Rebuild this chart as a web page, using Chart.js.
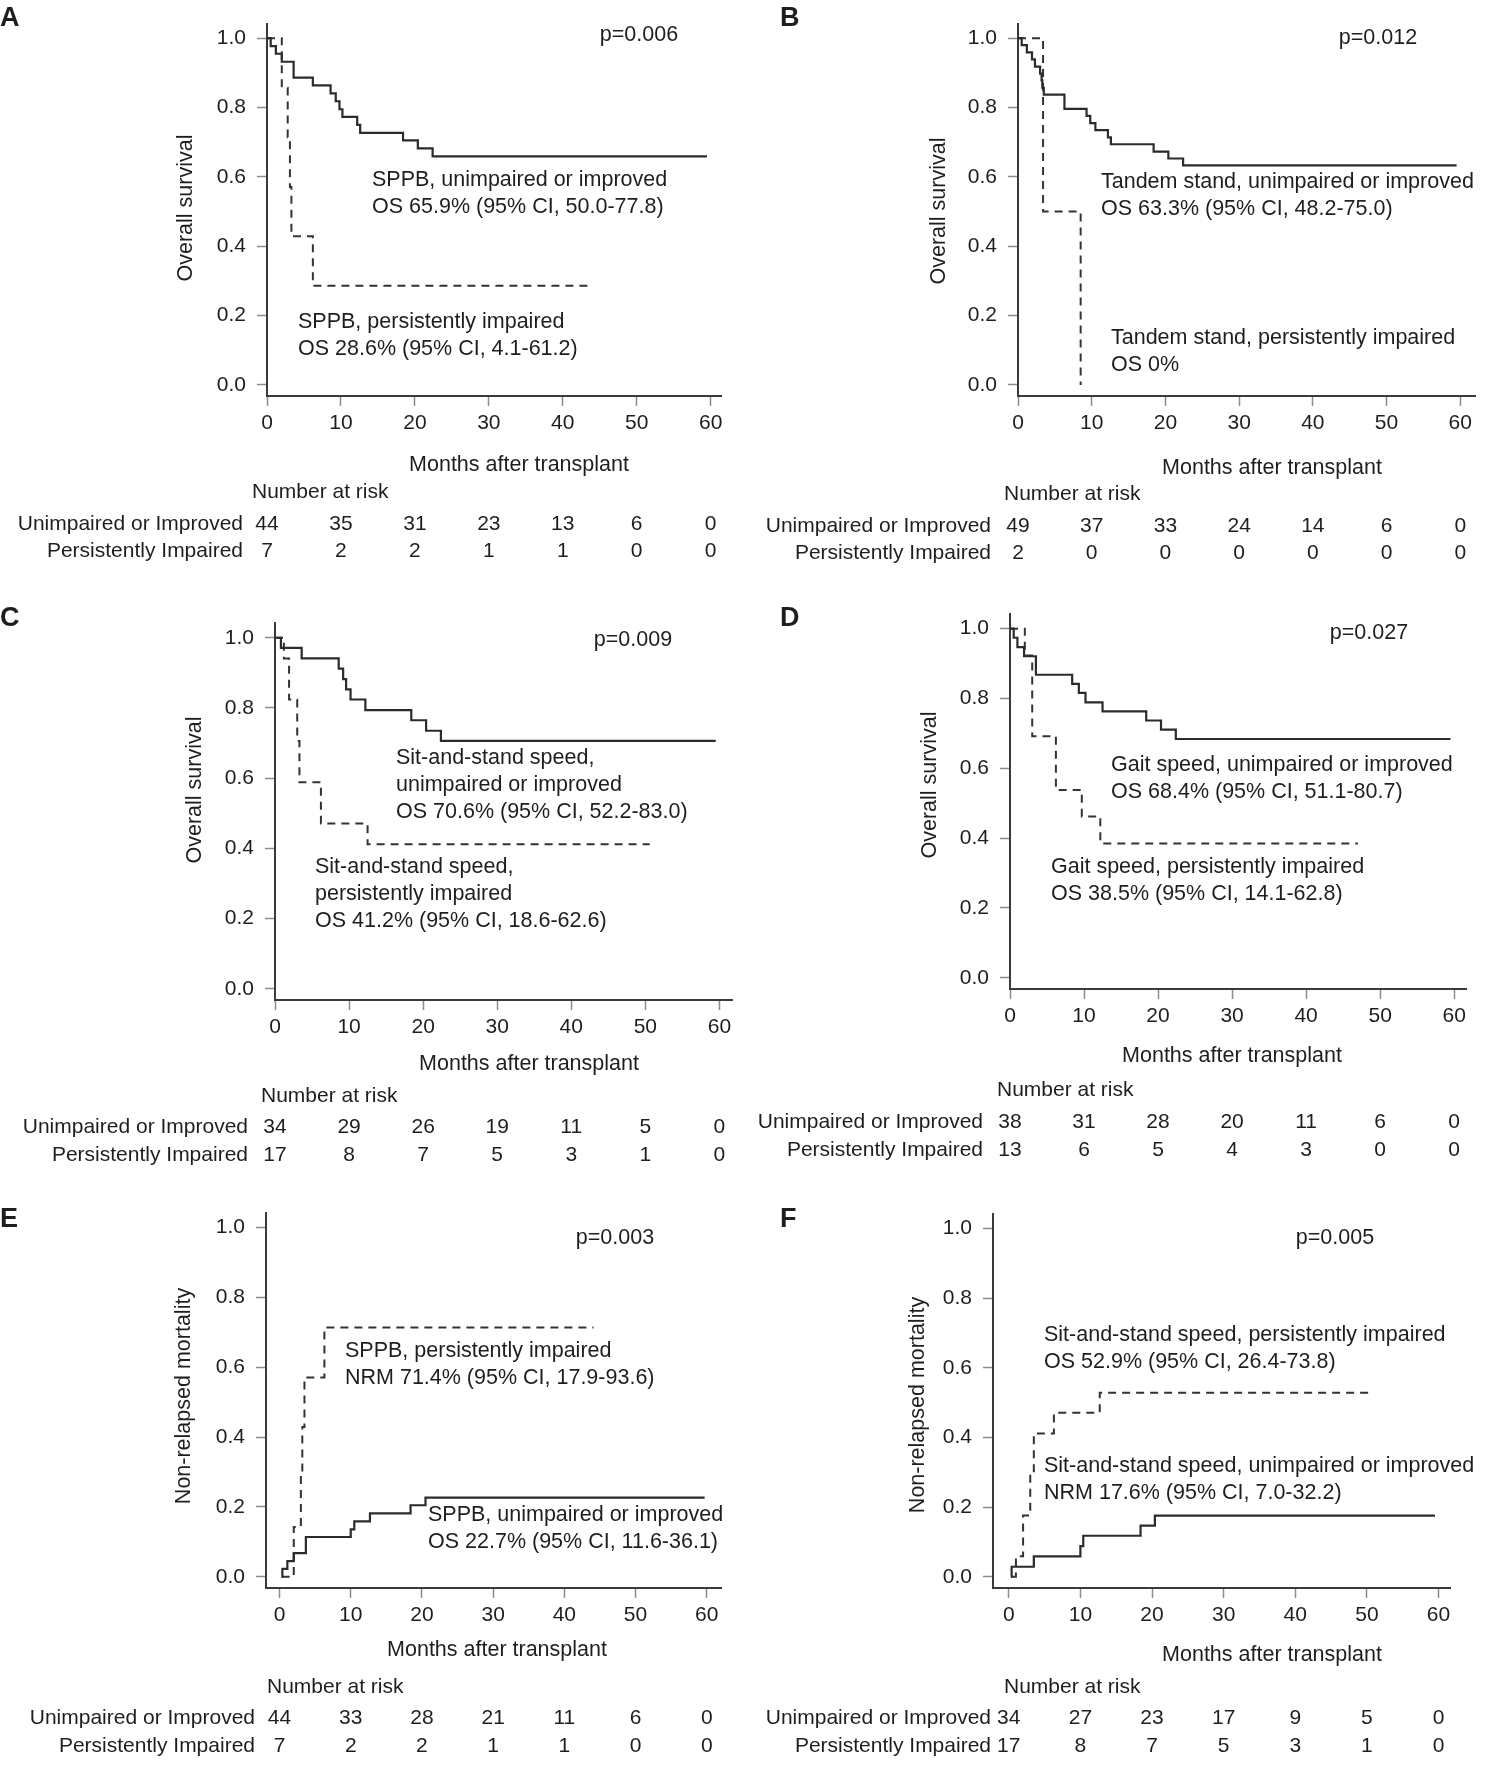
<!DOCTYPE html>
<html>
<head>
<meta charset="utf-8">
<script src="https://cdn.jsdelivr.net/npm/chart.js@4.4.1/dist/chart.umd.min.js"></script>
<style>
  body { margin: 0; background: #fff; }
  #page { position: relative; width: 1486px; height: 1767px; overflow: hidden; }
  canvas { position: absolute; }
</style>
</head>
<body>
<div id="page">
  <canvas id="chartA"></canvas>
  <canvas id="chartB"></canvas>
  <canvas id="chartC"></canvas>
  <canvas id="chartD"></canvas>
  <canvas id="chartE"></canvas>
  <canvas id="chartF"></canvas>
</div>
<script>
// axis ticks shared by all panels
const xTicks = [0, 10, 20, 30, 40, 50, 60];
const xTickLabels = ['0', '10', '20', '30', '40', '50', '60'];
const yTicks = [0, 0.2, 0.4, 0.6, 0.8, 1.0];
const yTickLabels = ['0.0', '0.2', '0.4', '0.6', '0.8', '1.0'];
const rowLabels = ['Unimpaired or Improved', 'Persistently Impaired'];

// Panel A - SPPB, overall survival
const aUnimpT = [0, 0.5, 1.2, 2.0, 3.6, 6.2, 8.6, 9.3, 9.8, 10.2, 12.2, 12.6, 18.4, 20.4, 22.4, 59.5];
const aUnimpS = [1, 0.977, 0.955, 0.932, 0.886, 0.864, 0.841, 0.818, 0.795, 0.773, 0.750, 0.727, 0.705, 0.682, 0.659, 0.659];
const aImpT = [0, 2.0, 2.8, 3.1, 3.3, 6.2, 44.1];
const aImpS = [1, 0.857, 0.714, 0.571, 0.429, 0.286, 0.286];
const aRiskUnimp = [44, 35, 31, 23, 13, 6, 0];
const aRiskImp = [7, 2, 2, 1, 1, 0, 0];

// Panel B - Tandem stand, overall survival
const bUnimpT = [0, 0.5, 1.2, 1.9, 2.3, 3.0, 3.2, 3.3, 3.5, 6.3, 9.3, 9.8, 10.5, 12.2, 12.6, 18.4, 20.4, 22.4, 59.5];
const bUnimpS = [1, 0.980, 0.959, 0.939, 0.918, 0.898, 0.878, 0.857, 0.837, 0.796, 0.776, 0.755, 0.735, 0.714, 0.694, 0.673, 0.653, 0.633, 0.633];
const bImpT = [0, 3.4, 8.5];
const bImpS = [1, 0.5, 0];
const bRiskUnimp = [49, 37, 33, 24, 14, 6, 0];
const bRiskImp = [2, 0, 0, 0, 0, 0, 0];

// Panel C - Sit-and-stand speed, overall survival
const cUnimpT = [0, 0.8, 3.6, 8.6, 9.2, 9.6, 10.2, 12.2, 18.4, 20.4, 22.4, 59.5];
const cUnimpS = [1, 0.971, 0.941, 0.912, 0.882, 0.853, 0.824, 0.794, 0.765, 0.735, 0.706, 0.706];
const cImpT = [0, 1.2, 1.9, 3.0, 3.3, 6.2, 12.5, 50.6];
const cImpS = [1, 0.941, 0.824, 0.706, 0.588, 0.471, 0.412, 0.412];
const cRiskUnimp = [34, 29, 26, 19, 11, 5, 0];
const cRiskImp = [17, 8, 7, 5, 3, 1, 0];

// Panel D - Gait speed, overall survival
const dUnimpT = [0, 0.5, 1.0, 1.9, 3.5, 8.4, 9.3, 10.2, 12.5, 18.4, 20.4, 22.4, 59.5];
const dUnimpS = [1, 0.974, 0.947, 0.921, 0.868, 0.842, 0.816, 0.789, 0.763, 0.737, 0.711, 0.684, 0.684];
const dImpT = [0, 2.0, 3.0, 6.2, 9.7, 12.2, 47.0];
const dImpS = [1, 0.923, 0.692, 0.538, 0.462, 0.385, 0.385];
const dRiskUnimp = [38, 31, 28, 20, 11, 6, 0];
const dRiskImp = [13, 6, 5, 4, 3, 0, 0];

// Panel E - SPPB, non-relapsed mortality
const eUnimpT = [0.3, 0.4, 1.1, 2.0, 3.7, 10.0, 10.5, 12.7, 18.4, 20.5, 59.7];
const eUnimpS = [0, 0.023, 0.045, 0.068, 0.114, 0.136, 0.159, 0.182, 0.205, 0.227, 0.227];
const eImpT = [0.3, 2.0, 3.0, 3.2, 3.5, 6.3, 44.1];
const eImpS = [0, 0.143, 0.286, 0.429, 0.571, 0.714, 0.714];
const eRiskUnimp = [44, 33, 28, 21, 11, 6, 0];
const eRiskImp = [7, 2, 2, 1, 1, 0, 0];

// Panel F - Sit-and-stand speed, non-relapsed mortality
const fUnimpT = [0.3, 0.4, 3.5, 10.0, 10.4, 18.4, 20.4, 59.5];
const fUnimpS = [0, 0.029, 0.059, 0.088, 0.118, 0.147, 0.176, 0.176];
const fImpT = [0.5, 1.0, 2.0, 3.0, 3.5, 6.3, 12.7, 50.6];
const fImpS = [0, 0.059, 0.176, 0.294, 0.412, 0.471, 0.529, 0.529];
const fRiskUnimp = [34, 27, 23, 17, 9, 5, 0];
const fRiskImp = [17, 8, 7, 5, 3, 1, 0];

const FONT = '"Liberation Sans", Arial, sans-serif';
const INK = '#1e1e1e';

function pts(t, s) {
  return t.map((v, i) => ({ x: v, y: s[i] }));
}

// draws letters, labels, axis titles and the number-at-risk table
const panelText = {
  id: 'panelText',
  afterDraw(chart, args, o) {
    const ctx = chart.ctx;
    const ox = o.cell.x, oy = o.cell.y;
    const xs = chart.scales.x;
    ctx.save();
    ctx.fillStyle = INK;
    ctx.textBaseline = 'middle';

    ctx.font = 'bold 27px ' + FONT;
    ctx.textAlign = 'left';
    ctx.fillText(o.letter, o.letterPos[0] - ox, o.letterPos[1] - oy);

    ctx.font = '21.5px ' + FONT;
    ctx.textAlign = 'center';
    ctx.fillText(o.pText, o.pPos[0] - ox, o.pPos[1] - oy);

    ctx.textAlign = 'left';
    o.notes.forEach(n => {
      n.lines.forEach((line, i) => {
        ctx.fillText(line, n.x - ox, n.y - oy + i * 27);
      });
    });

    // x title
    ctx.textAlign = 'center';
    ctx.fillText('Months after transplant', o.xTitle[0] - ox, o.xTitle[1] - oy);

    // y title
    ctx.save();
    ctx.translate(o.yTitle[0] - ox, o.yTitle[1] - oy);
    ctx.rotate(-Math.PI / 2);
    ctx.fillText(o.yText, 0, 0);
    ctx.restore();

    // number at risk
    ctx.font = '21px ' + FONT;
    ctx.textAlign = 'left';
    ctx.fillText('Number at risk', o.nar[0] - ox, o.nar[1] - oy);
    ctx.textAlign = 'right';
    ctx.fillText(rowLabels[0], o.rowRight - ox, o.rows[0] - oy);
    ctx.fillText(rowLabels[1], o.rowRight - ox, o.rows[1] - oy);
    ctx.textAlign = 'center';
    xTicks.forEach((t, i) => {
      const px = xs.getPixelForValue(t);
      ctx.fillText(String(o.risk[0][i]), px, o.rows[0] - oy);
      ctx.fillText(String(o.risk[1][i]), px, o.rows[1] - oy);
    });
    ctx.restore();
  }
};

function makeChart(id, cell, axis, solid, dashed, text) {
  const canvas = document.getElementById(id);
  canvas.width = cell.w;
  canvas.height = cell.h;
  canvas.style.left = cell.x + 'px';
  canvas.style.top = cell.y + 'px';
  const yW = 90, xH = 50;
  text.cell = cell;

  return new Chart(canvas, {
    type: 'line',
    data: {
      datasets: [
        {
          data: solid,
          borderColor: '#2b2b2b',
          borderWidth: 2.2,
          stepped: 'before',
          pointRadius: 0,
          fill: false,
        },
        {
          data: dashed,
          borderColor: '#333',
          borderWidth: 2,
          borderDash: [8, 6],
          stepped: 'before',
          pointRadius: 0,
          fill: false,
        },
      ],
    },
    options: {
      responsive: false,
      animation: false,
      events: [],
      layout: {
        padding: {
          left: axis.left - cell.x - yW,
          top: axis.top - cell.y,
          right: cell.x + cell.w - axis.right,
          bottom: cell.y + cell.h - axis.bottom - xH,
        },
      },
      plugins: {
        legend: { display: false },
        tooltip: { enabled: false },
        panelText: text,
      },
      scales: {
        x: {
          type: 'linear',
          min: axis.xmin,
          max: axis.xmax,
          afterFit: s => { s.height = xH; },
          afterBuildTicks: s => { s.ticks = xTicks.map(v => ({ value: v })); },
          ticks: {
            autoSkip: false,
            maxRotation: 0,
            padding: 5,
            color: INK,
            font: { family: FONT, size: 21 },
            callback: (v, i) => xTickLabels[i],
          },
          grid: { drawOnChartArea: false, drawTicks: true, tickLength: 10, tickColor: '#8c8c8c', tickWidth: 1.5 },
          border: { display: true, color: '#3a3a3a', width: 2 },
        },
        y: {
          type: 'linear',
          min: -0.032,
          max: 1.042,
          afterFit: s => { s.width = yW; },
          afterBuildTicks: s => { s.ticks = yTicks.map(v => ({ value: v })); },
          ticks: {
            autoSkip: false,
            padding: 11,
            color: INK,
            font: { family: FONT, size: 21 },
            callback: (v, i) => yTickLabels[i],
          },
          grid: { drawOnChartArea: false, drawTicks: true, tickLength: 10, tickColor: '#8c8c8c', tickWidth: 1.5 },
          border: { display: true, color: '#3a3a3a', width: 2 },
        },
      },
    },
    plugins: [panelText],
  });
}

makeChart('chartA', { x: 0, y: 0, w: 743, h: 590 },
  { left: 267, top: 20, right: 721, bottom: 396, xmin: 0, xmax: 61.4 },
  pts(aUnimpT, aUnimpS), pts(aImpT, aImpS),
  {
    letter: 'A', letterPos: [0, 19], pText: 'p=0.006', pPos: [639, 35],
    notes: [
      { x: 372, y: 180, lines: ['SPPB, unimpaired or improved', 'OS 65.9% (95% CI, 50.0-77.8)'] },
      { x: 298, y: 322, lines: ['SPPB, persistently impaired', 'OS 28.6% (95% CI, 4.1-61.2)'] },
    ],
    yText: 'Overall survival', yTitle: [186, 208], xTitle: [519, 465],
    nar: [252, 492], rowRight: 243, rows: [524, 551], risk: [aRiskUnimp, aRiskImp],
  });

makeChart('chartB', { x: 743, y: 0, w: 743, h: 590 },
  { left: 1018, top: 20, right: 1475, bottom: 396, xmin: 0, xmax: 62 },
  pts(bUnimpT, bUnimpS), pts(bImpT, bImpS),
  {
    letter: 'B', letterPos: [780, 19], pText: 'p=0.012', pPos: [1378, 38],
    notes: [
      { x: 1101, y: 182, lines: ['Tandem stand, unimpaired or improved', 'OS 63.3% (95% CI, 48.2-75.0)'] },
      { x: 1111, y: 338, lines: ['Tandem stand, persistently impaired', 'OS 0%'] },
    ],
    yText: 'Overall survival', yTitle: [939, 211], xTitle: [1272, 468],
    nar: [1004, 494], rowRight: 991, rows: [526, 553], risk: [bRiskUnimp, bRiskImp],
  });

makeChart('chartC', { x: 0, y: 590, w: 743, h: 590 },
  { left: 275, top: 623, right: 732, bottom: 1000, xmin: 0, xmax: 61.7 },
  pts(cUnimpT, cUnimpS), pts(cImpT, cImpS),
  {
    letter: 'C', letterPos: [0, 619], pText: 'p=0.009', pPos: [633, 640],
    notes: [
      { x: 396, y: 758, lines: ['Sit-and-stand speed,', 'unimpaired or improved', 'OS 70.6% (95% CI, 52.2-83.0)'] },
      { x: 315, y: 867, lines: ['Sit-and-stand speed,', 'persistently impaired', 'OS 41.2% (95% CI, 18.6-62.6)'] },
    ],
    yText: 'Overall survival', yTitle: [195, 790], xTitle: [529, 1064],
    nar: [261, 1096], rowRight: 248, rows: [1127, 1155], risk: [cRiskUnimp, cRiskImp],
  });

makeChart('chartD', { x: 743, y: 590, w: 743, h: 590 },
  { left: 1010, top: 614, right: 1466, bottom: 989, xmin: 0, xmax: 61.6 },
  pts(dUnimpT, dUnimpS), pts(dImpT, dImpS),
  {
    letter: 'D', letterPos: [780, 619], pText: 'p=0.027', pPos: [1369, 633],
    notes: [
      { x: 1111, y: 765, lines: ['Gait speed, unimpaired or improved', 'OS 68.4% (95% CI, 51.1-80.7)'] },
      { x: 1051, y: 867, lines: ['Gait speed, persistently impaired', 'OS 38.5% (95% CI, 14.1-62.8)'] },
    ],
    yText: 'Overall survival', yTitle: [930, 785], xTitle: [1232, 1056],
    nar: [997, 1090], rowRight: 983, rows: [1122, 1150], risk: [dRiskUnimp, dRiskImp],
  });

makeChart('chartE', { x: 0, y: 1180, w: 743, h: 587 },
  { left: 266, top: 1213, right: 721, bottom: 1588, xmin: -1.9, xmax: 62 },
  pts(eUnimpT, eUnimpS), pts(eImpT, eImpS),
  {
    letter: 'E', letterPos: [0, 1220], pText: 'p=0.003', pPos: [615, 1238],
    notes: [
      { x: 345, y: 1351, lines: ['SPPB, persistently impaired', 'NRM 71.4% (95% CI, 17.9-93.6)'] },
      { x: 428, y: 1515, lines: ['SPPB, unimpaired or improved', 'OS 22.7% (95% CI, 11.6-36.1)'] },
    ],
    yText: 'Non-relapsed mortality', yTitle: [184, 1396], xTitle: [497, 1650],
    nar: [267, 1687], rowRight: 255, rows: [1718, 1746], risk: [eRiskUnimp, eRiskImp],
  });

makeChart('chartF', { x: 743, y: 1180, w: 743, h: 587 },
  { left: 993, top: 1214, right: 1450, bottom: 1588, xmin: -2.2, xmax: 61.6 },
  pts(fUnimpT, fUnimpS), pts(fImpT, fImpS),
  {
    letter: 'F', letterPos: [780, 1220], pText: 'p=0.005', pPos: [1335, 1238],
    notes: [
      { x: 1044, y: 1335, lines: ['Sit-and-stand speed, persistently impaired', 'OS 52.9% (95% CI, 26.4-73.8)'] },
      { x: 1044, y: 1466, lines: ['Sit-and-stand speed, unimpaired or improved', 'NRM 17.6% (95% CI, 7.0-32.2)'] },
    ],
    yText: 'Non-relapsed mortality', yTitle: [918, 1405], xTitle: [1272, 1655],
    nar: [1004, 1687], rowRight: 991, rows: [1718, 1746], risk: [fRiskUnimp, fRiskImp],
  });
</script>
</body>
</html>
